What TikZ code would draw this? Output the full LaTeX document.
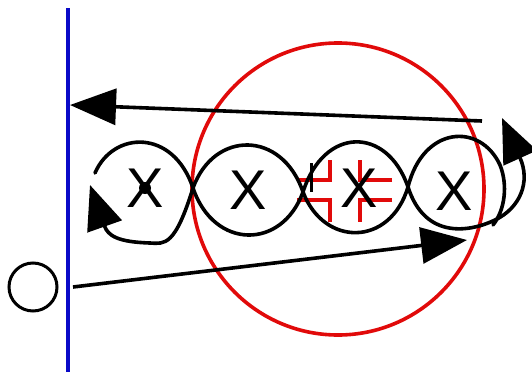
\documentclass[tikz,border=0pt]{standalone}
\usepackage{fontspec}
\setmainfont{Liberation Sans}
\usetikzlibrary{arrows.meta}
\definecolor{wallblue}{RGB}{10,10,200}
\definecolor{ringred}{RGB}{225,10,10}
\begin{document}
\begin{tikzpicture}[x=1pt,y=-1pt,
  strand/.style={line width=3.6pt, line cap=round},
  bigarrow/.style={line width=3.6pt, -{Triangle[length=46pt,width=36pt]}},
  hookarrow/.style={line width=3.6pt, -{Triangle[length=44pt,width=36pt]}},
  crossmark/.style={inner sep=0pt, font=\fontsize{56}{56}\selectfont},
  sight/.style={draw=ringred, line width=3.6pt},
  wall/.style={draw=wallblue, line width=4.5pt}]
\useasboundingbox (0,0) rectangle (532,372);

% wall and the small ball beside it
\coordinate (wtop) at (68,8);
\coordinate (wbot) at (68,372);
\draw[wall] (wtop) -- (wbot);
\node[draw, line width=3pt, circle, minimum size=48pt, inner sep=0pt] (ball) at (33,287) {};

% red ring
\coordinate (ringc) at (338,189);
\draw[sight] (ringc) circle[radius=146];

% red sight marks around the third lobe
\draw[sight] (297,180) -- (330,180) -- (330,160);
\draw[sight] (297,200) -- (330,200) -- (330,222);
\draw[sight] (392,180) -- (360,180) -- (360,160);
\draw[sight] (392,200) -- (360,200) -- (360,222);

% straight arrows
\coordinate (topR) at (482,121);
\coordinate (topL) at (70,105);
\draw[bigarrow] (topR) -- (topL);
\coordinate (botL) at (73,287);
\coordinate (botR) at (467,240);
\draw[bigarrow] (botL) -- (botR);

% crossing points of the twisted ribbon
\coordinate (c1) at (193,188);
\coordinate (c2) at (303,192);
\coordinate (c3) at (408,187);
\coordinate (aStart) at (95,173);
\coordinate (aTip) at (502,118);
\coordinate (bStart) at (493,225);
\coordinate (bTip) at (90,185);

% strand A
\draw[strand, hookarrow] (aStart)
  .. controls (113,131) and (173,128) .. (c1)
  .. controls (214,250) and (282,250) .. (c2)
  .. controls (324,126) and (387,126) .. (c3)
  .. controls (425,240) and (470,232) .. (495,220)
  .. controls (520,208) and (531,182) .. (aTip);

% strand B
\draw[strand, hookarrow] (bStart)
  .. controls (505,210) and (508,185) .. (500,165)
  .. controls (480,122) and (423,126) .. (c3)
  .. controls (390,247) and (324,247) .. (c2)
  .. controls (282,130) and (214,130) .. (c1)
  .. controls (175,246) and (165,244) .. (150,243)
  .. controls (118,242) and (108,236) .. (bTip);

% small black tick near the second crossing
\coordinate (tickT) at (311,163);
\coordinate (tickB) at (311,192);
\draw[line width=3pt] (tickT) -- (tickB);

% lobe labels
\node[crossmark] (x1) at (145,188) {X};
\fill (x1.center) circle[radius=6];
\node[crossmark] (x2) at (248,190) {X};
\node[crossmark] (x3) at (359,188) {X};
\node[crossmark] (x4) at (454,191) {X};
\end{tikzpicture}
\end{document}
